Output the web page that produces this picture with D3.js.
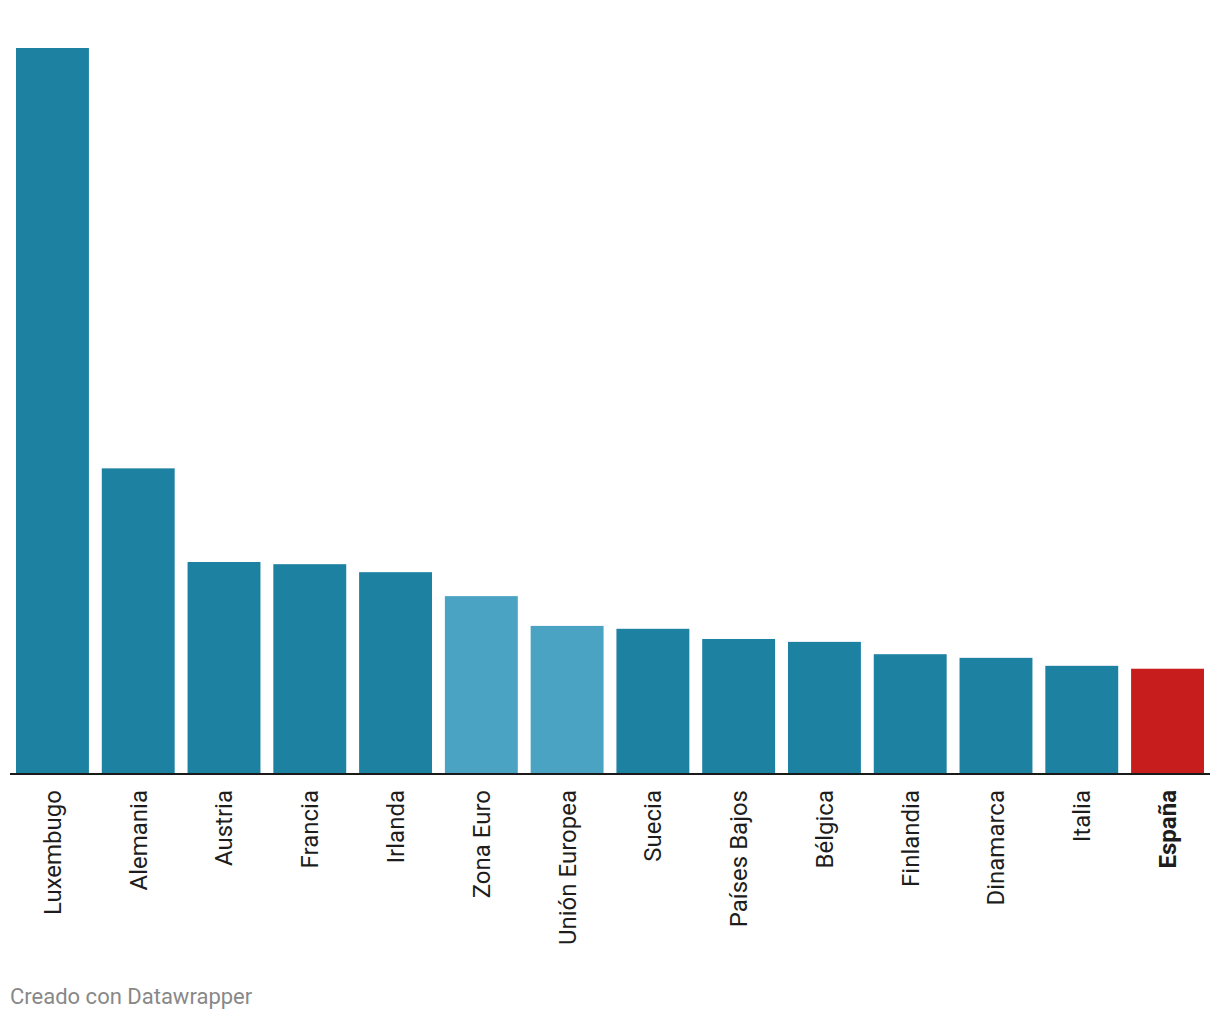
<!DOCTYPE html>
<html>
<head>
<meta charset="utf-8">
<script src="https://cdn.jsdelivr.net/npm/d3@7"></script>
<style>
  html, body { margin: 0; padding: 0; background: #fff; }
  svg { display: block; font-family: Roboto, "Noto Sans", sans-serif; }
</style>
</head>
<body>
<svg id="chart" width="1220" height="1020"></svg>
<script>
const categories = ["Luxembugo", "Alemania", "Austria", "Francia", "Irlanda", "Zona Euro", "Unión Europea", "Suecia", "Países Bajos", "Bélgica", "Finlandia", "Dinamarca", "Italia", "España"];
const values = [100, 42.1, 29.2, 28.9, 27.8, 24.5, 20.4, 20.0, 18.6, 18.2, 16.5, 16.0, 14.9, 14.5];
const groups = ["pais", "pais", "pais", "pais", "pais", "media", "media", "pais", "pais", "pais", "pais", "pais", "pais", "destacado"];
const colors = { pais: "#1d81a2", media: "#4ba3c3", destacado: "#c71e1d" };

(function () {
const data = categories.map((c, i) => ({ name: c, value: values[i], group: groups[i] }));

const svg = d3.select("#chart");
const mLeft = 10, mRight = 1210, baseline = 774, mTop = 48;

const x = d3.scaleBand().domain(categories).range([mLeft, mRight]).paddingInner(0.15).paddingOuter(0.07);
const y = d3.scaleLinear().domain([0, d3.max(values)]).range([baseline, mTop]);

svg.append("g").selectAll("rect").data(data).join("rect")
  .attr("x", d => x(d.name))
  .attr("width", x.bandwidth())
  .attr("y", d => y(d.value))
  .attr("height", d => y(0) - y(d.value))
  .attr("fill", d => colors[d.group]);

const axis = d3.axisBottom(x).tickSize(0).tickPadding(0);
const gx = svg.append("g").attr("transform", `translate(0,${baseline})`).call(axis);
gx.select(".domain").attr("stroke", "#1a1a1a").attr("stroke-width", 2).attr("d", `M${mLeft},0H${mRight}`);
gx.selectAll(".tick text")
  .attr("transform", "rotate(-90)")
  .attr("x", -16).attr("y", 0).attr("dy", "0.35em")
  .attr("text-anchor", "end")
  .attr("font-size", 24)
  .attr("font-family", "Roboto, sans-serif")
  .attr("fill", "#1d1d1d")
  .attr("font-weight", d => d === "España" ? "bold" : "normal");

svg.append("text")
  .attr("x", 10).attr("y", 1004)
  .attr("font-size", 22)
  .attr("fill", "#888")
  .text("Creado con Datawrapper");
})();
</script>
</body>
</html>
